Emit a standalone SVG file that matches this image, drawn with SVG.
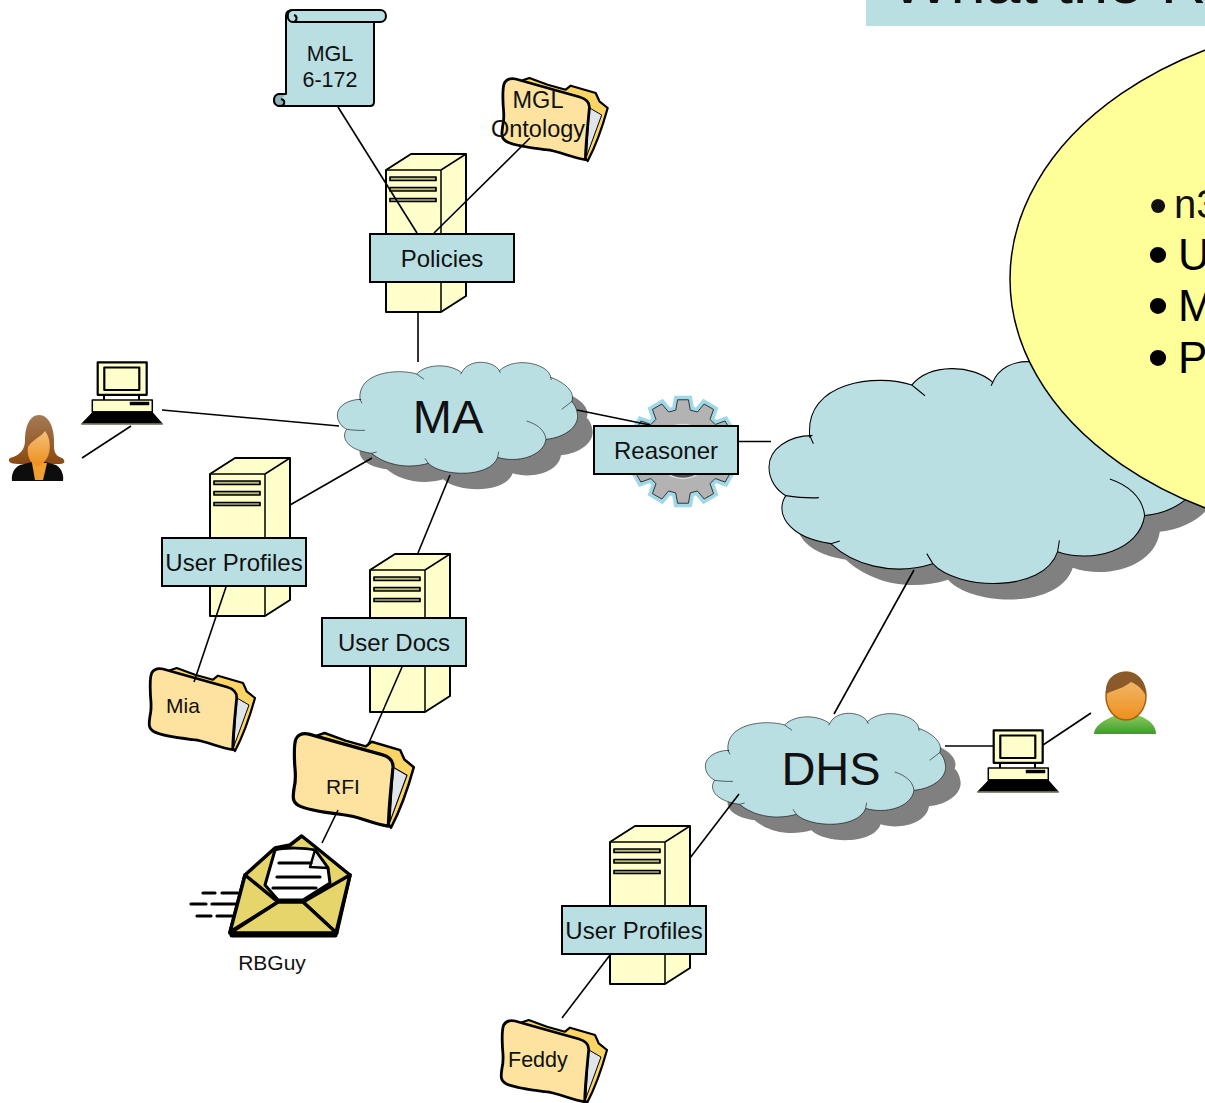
<svg xmlns="http://www.w3.org/2000/svg" width="1205" height="1103" viewBox="0 0 1205 1103">
<style>
text{font-family:"Liberation Sans",Arial,sans-serif;fill:#111}
.c{text-anchor:middle}
.box{fill:#b9dfe3;stroke:#000;stroke-width:2}
.lbl{font-size:24px}
.big{font-size:47px}
.fl{font-size:21px}
.bul{font-size:44px;fill:#000}
.dot{font-size:60px}
.cl{fill:#b9dfe3;stroke:#000;stroke-width:1.7;vector-effect:non-scaling-stroke}
.tk{fill:none;stroke:#000;stroke-width:1.7;vector-effect:non-scaling-stroke}
.sh{fill:#808080}
#conn line{stroke:#000;stroke-width:1.6}
</style>
<defs>
<path id="cloudP" d="M93,148C55,148 22,168 22,195C22,215 35,230 50,238C32,262 50,300 125,310C160,340 225,360 295,340C335,380 480,385 503,322C560,340 640,320 648,268C710,262 750,225 742,190C740,175 733,162 725,155C738,125 700,95 662,82C660,45 560,15 508,62C490,30 415,25 395,68C360,40 290,40 260,72C205,55 80,65 90,150Z"/>
<path id="cloudT" d="M90,148L96,160M50,238C65,240 85,242 105,241M125,310L140,306M295,340L285,325M503,322L506,305M648,268C645,240 620,222 590,213M725,155L695,178M395,68L392,73M508,62L511,69M662,82L664,90M260,72L282,88"/>
<g id="server" stroke="#000" stroke-linejoin="round">
<path d="M0,16L25,0H80V142L55,158H0Z" fill="#ffffcc" stroke-width="2"/>
<path d="M0,16H55L80,0M55,16V158" fill="none" stroke-width="1.5"/>
<g fill="#b3b37d" stroke-width="1.7"><rect x="4" y="23" width="46" height="3.5"/><rect x="4" y="33.500" width="46" height="3.500"/><rect x="4" y="44.500" width="46" height="3"/></g>
</g>
<g id="folder" stroke="#000" stroke-linejoin="round" stroke-linecap="round">
<path d="M21,2.300L27.700,0L46,6.700L64,11.700L69,7.700L94,15L97.700,23.300L106,30C101,48 95,66 86,83L60,50Z" fill="#fad566" stroke-width="2.200"/>
<path d="M88,30L100,37L85,78Z" fill="#dfe5ea" stroke-width="1"/>
<path d="M2.700,5C5,1 9,0 14,1C35,7 60,14 78,19C85,21 88,25 87.700,30C86,48 84,65 83.700,81.700C70,80 58,73 44.300,71.700C30,70 12,68 4.300,63.300C-1,60 0,55 1,48C3,40 2,35 1.500,28C1,18 0.500,10 2.700,5Z" fill="#fde39f" stroke-width="2.800"/>
</g>
<g id="pc" stroke="#000" stroke-linejoin="round">
<rect x="97.700" y="362.300" width="49" height="32.500" fill="#ffffcc" stroke-width="2.200"/>
<rect x="104.300" y="367.500" width="35" height="22.500" fill="#ffffcc" stroke-width="2.200"/>
<path d="M104,395V400M139,395V400" stroke-width="2" fill="none"/>
<rect x="92.300" y="400" width="60" height="12" fill="#ffffcc" stroke-width="1.500"/>
<rect x="130" y="402" width="19" height="3" fill="#000" stroke-width="0.500"/>
<path d="M82,424L93.500,412H151.500L162,424Z" fill="#000" stroke-width="1.500"/>
<path d="M82,424H162" stroke="#ffffcc" stroke-width="0.800"/>
</g>
<linearGradient id="skin" x1="0" y1="0" x2="0" y2="1"><stop offset="0" stop-color="#f2c07a"/><stop offset="1" stop-color="#ee8f1c"/></linearGradient>
<linearGradient id="hair" x1="0" y1="0" x2="0" y2="1"><stop offset="0" stop-color="#a57a55"/><stop offset="1" stop-color="#8a4a10"/></linearGradient>
<linearGradient id="green" x1="0" y1="0" x2="0" y2="1"><stop offset="0" stop-color="#86c95a"/><stop offset="1" stop-color="#3f9a2c"/></linearGradient>
<filter id="soft" x="-10%" y="-10%" width="120%" height="120%"><feGaussianBlur stdDeviation="0.500"/></filter>
<path id="gear" d="M5.430,-51.720L7.290,-41.360L14.360,-39.470L21.150,-47.500L30.570,-42.070L27,-32.170L32.170,-27L42.070,-30.570L47.500,-21.150L39.470,-14.360L41.360,-7.290L51.720,-5.430L51.720,5.430L41.360,7.290L39.470,14.360L47.500,21.150L42.070,30.570L32.170,27L27,32.170L30.570,42.070L21.150,47.500L14.360,39.470L7.290,41.360L5.430,51.720L-5.430,51.720L-7.290,41.360L-14.360,39.470L-21.150,47.500L-30.570,42.070L-27,32.170L-32.170,27L-42.070,30.570L-47.500,21.150L-39.470,14.360L-41.360,7.290L-51.720,5.430L-51.720,-5.430L-41.360,-7.290L-39.470,-14.360L-47.500,-21.150L-42.070,-30.570L-32.170,-27L-27,-32.170L-30.570,-42.070L-21.150,-47.500L-14.360,-39.470L-7.290,-41.360L-5.430,-51.720Z"/>
</defs>

<g id="title">
<rect x="866" y="-10" width="340" height="36" fill="#b9dfe3"/>
<text x="891" y="3" font-size="63">What the R</text>
</g>

<g id="cloud-center">
<use href="#cloudP" class="sh" transform="translate(771,353) scale(.6,.6667)"/>
<use href="#cloudP" class="cl" transform="translate(755.800,337) scale(.6,.6667)"/>
<use href="#cloudT" class="tk" transform="translate(755.800,337) scale(.6,.6667)"/>
</g>

<g id="bubble">
<ellipse cx="1390" cy="279" rx="380" ry="262" fill="#ffff99" stroke="#000" stroke-width="1.500"/>
<text x="1149" y="222.700" font-size="40" fill="#000"><tspan font-size="52">•</tspan><tspan x="1174" dy="-4.700">n3</tspan></text>
<text x="1147.500" y="274.500" class="bul"><tspan class="dot">•</tspan><tspan x="1178" dy="-4.500">U</tspan></text>
<text x="1147.500" y="325.500" class="bul"><tspan class="dot">•</tspan><tspan x="1178" dy="-4.500">M</tspan></text>
<text x="1147.500" y="377.500" class="bul"><tspan class="dot">•</tspan><tspan x="1178" dy="-4.500">P</tspan></text>
</g>

<g id="cloud-ma">
<use href="#cloudP" class="sh" transform="translate(345,366) scale(.3333)"/>
<use href="#cloudP" class="cl" transform="translate(330,350) scale(.3333)"/>
<use href="#cloudT" class="tk" transform="translate(330,350) scale(.3333)"/>
<text x="448" y="433" class="big c">MA</text>
</g>

<g id="cloud-dhs">
<use href="#cloudP" class="sh" transform="translate(713,717) scale(.3333)"/>
<use href="#cloudP" class="cl" transform="translate(698,701) scale(.3333)"/>
<use href="#cloudT" class="tk" transform="translate(698,701) scale(.3333)"/>
<text x="831" y="785" class="big c">DHS</text>
</g>

<g id="mgl-scroll" stroke="#000" stroke-width="2" stroke-linejoin="round">
<path d="M286,16C286,12 289,10 293,10H380C388,10 388,22 380,22H374V102C374,105 372,106 370,106H280C272,106 272,94 280,94H286Z" fill="#b9dfe3"/>
<path d="M293,22H374M293,10C286,10 286,22 293,22C297,22 298,16 294,15" fill="none"/>
<path d="M286,94H280C272,94 272,106 280,106C285,106 286,100 281,99" fill="#8fb3b8"/>
<text x="330" y="61" font-size="21.500" class="c" stroke="none">MGL</text>
<text x="330" y="87" font-size="21.500" class="c" stroke="none">6-172</text>
</g>

<g id="mgl-ontology">
<use href="#folder" x="501.700" y="78"/>
<text x="538" y="108" font-size="23.500" class="c">MGL</text>
<text x="538" y="137" font-size="23.500" class="c">Ontology</text>
</g>

<g id="policies">
<use href="#server" x="386" y="154"/>
<rect x="370" y="234" width="144" height="48" class="box"/>
<text x="442" y="267" class="lbl c">Policies</text>
</g>

<g id="pc-ma"><use href="#pc"/></g>

<g id="person-f" filter="url(#soft)">
<path d="M39,415C29,415 25,428 25,440C25,449 21,455 10,458C7,461 10,464 18,464L22,464H56L60,464C66,464 65,460 62,458C53,455 54,449 54,440C54,428 49,415 39,415Z" fill="url(#hair)"/>
<path d="M20,465C14,468 11,474 12,481H63C64,474 61,468 56,465L46,462H32Z" fill="#111"/>
<path d="M32,463H47L43,480H35Z" fill="#f0a030"/>
<path d="M28,447C32,440 42,436 45,431C51,438 51,452 47,458C44,463 41,466 38,466C33,466 26,458 28,447Z" fill="url(#skin)"/>
</g>

<g id="server-profiles-ma">
<use href="#server" x="210" y="458"/>
<rect x="162" y="538" width="144" height="48" class="box"/>
<text x="234" y="571" class="lbl c">User Profiles</text>
</g>

<g id="folder-mia">
<use href="#folder" x="149" y="668"/>
<text x="166" y="713" class="fl">Mia</text>
</g>

<g id="server-docs">
<use href="#server" x="370" y="554"/>
<rect x="322" y="618" width="144" height="48" class="box"/>
<text x="394" y="651" class="lbl c">User Docs</text>
</g>

<g id="folder-rfi">
<use href="#folder" transform="translate(293,733) scale(1.140)"/>
<text x="343" y="794" class="fl c">RFI</text>
</g>

<g id="envelope" stroke="#000" stroke-linejoin="round" stroke-linecap="round">
<path d="M245,875L275,848L290,845L301.700,836L313,845L350,875L336.700,933H230Z" fill="#e6d56b" stroke-width="3.500"/>
<path d="M275,850C285,847 305,848 315,850L328,868L330,883L303,900H278L265,885Z" fill="#fff" stroke-width="3"/>
<path d="M315,850L310,867L328,868Z" fill="#eee" stroke-width="2.500"/>
<path d="M279,863H311M277,877H320M273,888H316" fill="none" stroke-width="3.200"/>
<path d="M245,875L278,902L230,932ZM350,875L303,902L336,933Z" fill="#e6d56b" stroke-width="3.500"/>
<path d="M230,933L278,902H303L336.700,933Z" fill="#e6d56b" stroke-width="3.500"/>
<path d="M232,935H335" fill="none" stroke-width="5"/>
<path d="M203,893H215M222,893H238M191,904H206M212,904H236M197,916H211M217,916H234" fill="none" stroke-width="3.200"/>
</g>
<g id="rbguy"><text x="272" y="970" font-size="21" class="c">RBGuy</text></g>

<g id="reasoner">
<use href="#gear" transform="translate(683,451.500)" fill="#b3b3b3" stroke="#9fd8e8" stroke-width="8"/>
<use href="#gear" transform="translate(683,451.500)" fill="#b3b3b3" stroke="#333" stroke-width="1"/>
<circle cx="683" cy="451.500" r="27" fill="#555" stroke="#ddd" stroke-width="1.500"/>
<rect x="594" y="426" width="144" height="48" class="box"/>
<text x="666" y="459" class="lbl c">Reasoner</text>
</g>

<g id="pc-dhs"><use href="#pc" x="896" y="368"/></g>

<g id="person-m" filter="url(#soft)">
<path d="M1094,734C1094,726 1104,720 1114,716H1140C1150,720 1156,726 1156,734Z" fill="url(#green)"/>
<ellipse cx="1126" cy="696" rx="20" ry="24" fill="url(#skin)" stroke="#a55f10" stroke-width="1.500"/>
<path d="M1106,694C1105,680 1113,672 1126,672C1139,672 1146,682 1146,696C1142,688 1136,684 1131,682C1124,688 1114,690 1106,694Z" fill="#8a5a2c"/>
</g>

<g id="server-profiles-dhs">
<use href="#server" x="610" y="826"/>
<rect x="562" y="906" width="144" height="48" class="box"/>
<text x="634" y="939" class="lbl c">User Profiles</text>
</g>

<g id="folder-feddy">
<use href="#folder" x="501" y="1020"/>
<text x="508" y="1067" font-size="21.500">Feddy</text>
</g>

<g id="conn">
<line x1="338" y1="107" x2="417" y2="233"/>
<line x1="530" y1="138" x2="434" y2="233"/>
<line x1="418" y1="313" x2="418" y2="362"/>
<line x1="162" y1="410" x2="339" y2="426"/>
<line x1="131" y1="426" x2="82" y2="458"/>
<line x1="290" y1="505" x2="372" y2="458"/>
<line x1="226" y1="587" x2="194" y2="682"/>
<line x1="450" y1="475" x2="418" y2="553"/>
<line x1="402" y1="667" x2="368" y2="745"/>
<line x1="338" y1="810" x2="322" y2="843"/>
<line x1="577" y1="410" x2="650" y2="425"/>
<line x1="738" y1="441.500" x2="771" y2="441.500"/>
<line x1="914" y1="570" x2="834" y2="714"/>
<line x1="945" y1="746" x2="993" y2="746"/>
<line x1="1043" y1="745" x2="1091" y2="713"/>
<line x1="739" y1="794" x2="690" y2="858"/>
<line x1="610" y1="955" x2="562" y2="1018"/>
</g>
</svg>
